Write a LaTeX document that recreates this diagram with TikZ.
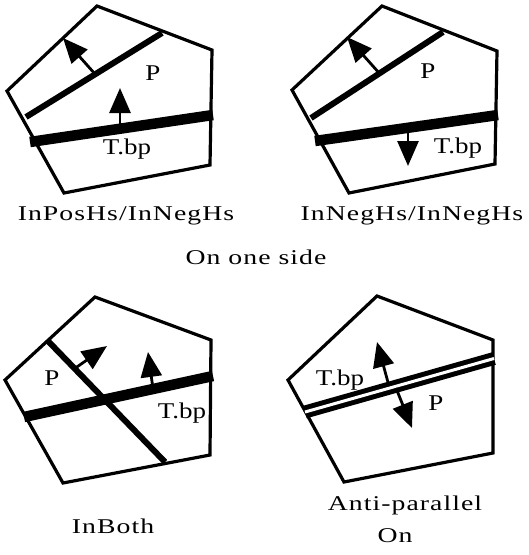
\documentclass[tikz,border=0pt]{standalone}
\usepackage{fontspec}
\setmainfont{Liberation Serif}
\newfontfamily\capfont[FakeStretch=1.32, LetterSpace=5]{Liberation Serif}
\newfontfamily\lblfont[FakeStretch=1.2]{Liberation Serif}
\usetikzlibrary{arrows.meta}

\begin{document}
\begin{tikzpicture}[x=1pt, y=-1pt, >={Triangle[length=25pt,width=21pt]},
    edge/.style={line width=3.2pt, line join=miter},
    plane/.style={line width=10.5pt},
    hs/.style={line width=6pt},
    twin/.style={line width=5pt, double, double distance=3pt},
    nrm/.style={->, line width=2.8pt},
    lbl/.style={font=\lblfont\fontsize{22.5}{24}\selectfont, inner sep=0pt, anchor=base},
    captxt/.style={font=\capfont\fontsize{21}{24}\selectfont, inner sep=0pt, anchor=base}]
    \useasboundingbox (0,0) rectangle (529,555);

    % on one side, first case
    \coordinate (a1) at (97,6);
    \coordinate (b1) at (212,50);
    \coordinate (c1) at (210,165);
    \coordinate (d1) at (64,193);
    \coordinate (e1) at (7,91);
    \draw[edge] (a1) -- (b1) -- (c1) -- (d1) -- (e1) -- cycle;
    \draw[plane] (30,142) -- (213,115);
    \draw[hs] (26,117) -- (162,33);
    \draw[nrm] (95,74) -- (63,38);
    \draw[nrm] (120,128) -- (120,88);
    \node[lbl] (p1) at (153,80) {P};
    \node[lbl] (t1) at (127,154) {T.bp};

    % on one side, second case
    \coordinate (a2) at (382,6);
    \coordinate (b2) at (497,51);
    \coordinate (c2) at (495,164);
    \coordinate (d2) at (349,193);
    \coordinate (e2) at (292,90);
    \draw[edge] (a2) -- (b2) -- (c2) -- (d2) -- (e2) -- cycle;
    \draw[plane] (315,141) -- (498,115);
    \draw[hs] (311,118) -- (443,32);
    \draw[nrm] (380,74) -- (347,37);
    \draw[nrm] (408,128) -- (408,166);
    \node[lbl] (p2) at (428,78) {P};
    \node[lbl] (t2) at (458,153) {T.bp};

    \node[captxt] (c12) at (126,220) {InPosHs/InNegHs};
    \node[captxt] (c22) at (412,220) {InNegHs/InNegHs};
    \node[captxt] (side) at (256,264) {On one side};

    % in both
    \node[lbl] (p3) at (52,385) {P};
    \node[lbl] (t3) at (182,418) {T.bp};
    \coordinate (a3) at (95,297);
    \coordinate (b3) at (211,340);
    \coordinate (c3) at (210,455);
    \coordinate (d3) at (63,483);
    \coordinate (e3) at (5,380);
    \fill[white] (211.6,392) rectangle (235,430);
    \draw[edge] (a3) -- (b3) -- (c3) -- (d3) -- (e3) -- cycle;
    \draw[plane] (24,417) -- (213,376);
    \draw[hs] (48,341) -- (165,462);
    \draw[nrm] (74,369) -- (107,346);
    \draw[nrm] (153,389) -- (148,352);
    \node[captxt] (c3n) at (113,533) {InBoth};

    % on, anti-parallel
    \coordinate (a4) at (377,296);
    \coordinate (b4) at (493,340);
    \coordinate (c4) at (493,453);
    \coordinate (d4) at (344,482);
    \coordinate (e4) at (288,380);
    \draw[edge] (a4) -- (b4) -- (c4) -- (d4) -- (e4) -- cycle;
    \draw[twin] (305,412) -- (494,358.5);
    \draw[nrm] (389,386) -- (377,342);
    \draw[nrm] (396,388) -- (412,428);
    \node[lbl] (t4) at (340,385) {T.bp};
    \node[lbl] (p4) at (436,410) {P};
    \node[captxt] (c4a) at (405,510) {Anti-parallel};
    \node[captxt] (c4b) at (395,542) {On};
\end{tikzpicture}
\end{document}
